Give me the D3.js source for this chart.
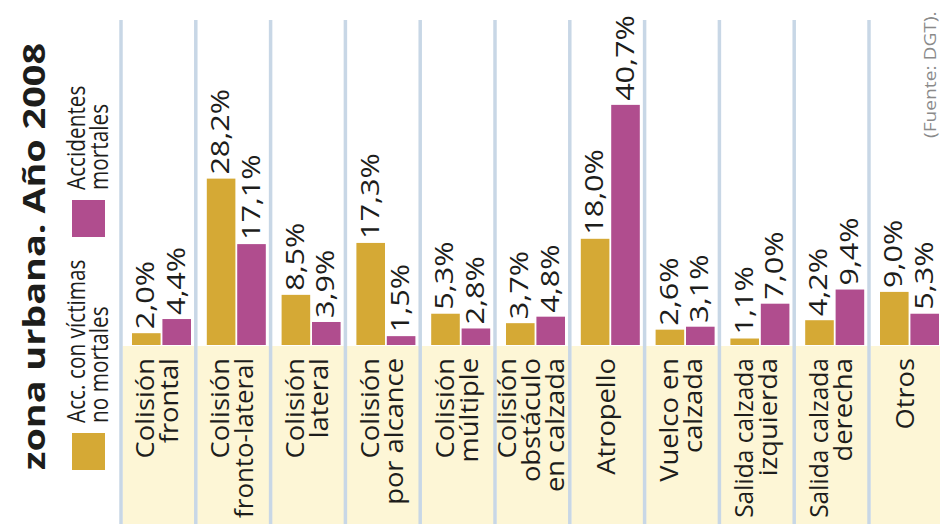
<!DOCTYPE html>
<html>
<head>
<meta charset="utf-8">
<script src="https://cdn.jsdelivr.net/npm/d3@7"></script>
<style>
  body { margin: 0; background: #ffffff; }
  svg { display: block; }
  text { font-family: "Open Sans", "Noto Sans", sans-serif; fill: #1d1d1b; }
</style>
</head>
<body>
<svg id="chart" width="940" height="524"></svg>
<script>
// Accident types (zona urbana, 2008) and their share per accident class
const categories = [
  "Colisión frontal", "Colisión fronto-lateral", "Colisión lateral",
  "Colisión por alcance", "Colisión múltiple", "Colisión obstáculo en calzada",
  "Atropello", "Vuelco en calzada", "Salida calzada izquierda",
  "Salida calzada derecha", "Otros"
];
const categoryLines = [
  ["Colisión", "frontal"], ["Colisión", "fronto-lateral"], ["Colisión", "lateral"],
  ["Colisión", "por alcance"], ["Colisión", "múltiple"], ["Colisión", "obstáculo", "en calzada"],
  ["Atropello"], ["Vuelco en", "calzada"], ["Salida calzada", "izquierda"],
  ["Salida calzada", "derecha"], ["Otros"]
];
const seriesKeys = ["noMortales", "mortales"];
const seriesLegend = [["Acc. con víctimas", "no mortales"], ["Accidentes", "mortales"]];
const noMortales = [2.0, 28.2, 8.5, 17.3, 5.3, 3.7, 18.0, 2.6, 1.1, 4.2, 9.0];
const mortales   = [4.4, 17.1, 3.9, 1.5, 2.8, 4.8, 40.7, 3.1, 7.0, 9.4, 5.3];
const titleText = "zona urbana. Año 2008";
const sourceText = "(Fuente: DGT).";

const colors = { noMortales: "#d5a935", mortales: "#b04d8e" };

const rows = categories.map((c, i) => ({
  cat: c, lines: categoryLines[i],
  noMortales: noMortales[i], mortales: mortales[i]
}));

const svg = d3.select("#chart");
const W = 940, H = 524;
const baseY = 345;

const x = d3.scaleBand().domain(categories).range([121, 121 + 74.8 * categories.length]);
const xs = d3.scaleBand().domain(seriesKeys).range([11, 70]).paddingInner(0.06);
const y = d3.scaleLinear().domain([0, 45]).range([baseY, baseY - 45 * 5.9]);

const esLocale = d3.formatLocale({ decimal: ",", thousands: ".", grouping: [3], currency: ["", "€"] });
const fmt = v => esLocale.format(".1f")(v) + "%";

// pale label panel of each column
svg.append("g").selectAll("rect").data(rows).join("rect")
  .attr("x", d => x(d.cat) + 1.5)
  .attr("y", baseY + 1)
  .attr("width", x.bandwidth() - 1.5)
  .attr("height", H - baseY)
  .attr("fill", "#fdf6d6");

// column separators
svg.append("g").selectAll("line").data(rows).join("line")
  .attr("x1", d => x(d.cat)).attr("x2", d => x(d.cat))
  .attr("y1", 20).attr("y2", H)
  .attr("stroke", "#c8d7e6").attr("stroke-width", 3.5);

// bars
const col = svg.append("g").selectAll("g").data(rows).join("g")
  .attr("transform", d => `translate(${x(d.cat)},0)`);

col.selectAll("rect").data(d => seriesKeys.map(k => ({ key: k, value: d[k] }))).join("rect")
  .attr("x", d => xs(d.key))
  .attr("y", d => y(d.value))
  .attr("width", xs.bandwidth())
  .attr("height", d => baseY - y(d.value))
  .attr("fill", d => colors[d.key]);

// value labels, written upward above each bar
col.selectAll("text.val").data(d => seriesKeys.map(k => ({ key: k, value: d[k] }))).join("text")
  .attr("class", "val")
  .attr("transform", d => `translate(${xs(d.key) + xs.bandwidth() / 2 + 8},${y(d.value) - 4}) rotate(-90) scale(1.2,1)`)
  .attr("font-size", 25.5)
  .attr("text-anchor", "start")
  .text(d => fmt(d.value));

// category names, written upward below the baseline
const lh = 24;
col.append("g")
  .attr("transform", `translate(${x.bandwidth() / 2 + 8},${baseY + 13}) rotate(-90)`)
  .each(function (d) {
    const g = d3.select(this);
    const n = d.lines.length;
    d.lines.forEach((ln, i) => {
      const t = g.append("text")
        .attr("font-size", 26)
        .attr("text-anchor", "end")
        .text(ln);
      const w = t.node().getComputedTextLength();
      const sx = Math.min(1.05, 160 / w);
      t.attr("transform", `translate(0,${(i - (n - 1) / 2) * lh}) scale(${sx},1)`);
    });
  });

// title
svg.append("text")
  .attr("transform", "translate(45,470) rotate(-90) scale(1.22,1)")
  .attr("font-size", 31)
  .attr("font-weight", 700)
  .attr("fill", "#1d1d1b")
  .text(titleText);

// legend
const legendPos = [{ ry: 433, ty: 423 }, { ry: 200, ty: 190 }];
seriesKeys.forEach((k, i) => {
  svg.append("rect")
    .attr("x", 72).attr("y", legendPos[i].ry)
    .attr("width", 33).attr("height", 37)
    .attr("fill", colors[k]);
  const g = svg.append("g")
    .attr("transform", `translate(85,${legendPos[i].ty}) rotate(-90)`);
  seriesLegend[i].forEach((ln, j) => {
    g.append("text")
      .attr("transform", `translate(0,${j * 23}) scale(0.8,1)`)
      .attr("font-size", 26)
      .text(ln);
  });
});

// source note
svg.append("text")
  .attr("transform", "translate(936,138) rotate(-90) scale(1.2,1)")
  .attr("font-size", 16)
  .style("fill", "#8a8a8a")
  .text(sourceText);
</script>
</body>
</html>
